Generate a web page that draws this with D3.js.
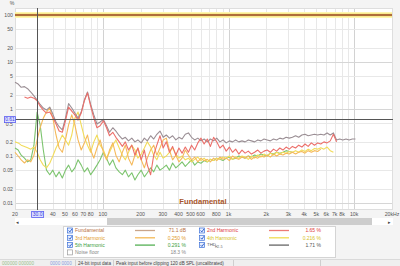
<!DOCTYPE html>
<html>
<head>
<meta charset="utf-8">
<script src="https://cdn.jsdelivr.net/npm/d3@7"></script>
<style>
  html, body { margin: 0; padding: 0; background: #f4f4f4; }
  svg { display: block; font-family: "Liberation Sans", Arial, sans-serif; }
</style>
</head>
<body>
<svg id="chart" width="400" height="266"></svg>
<script>
// frequency grid, 1/12 octave (Hz)
const freqs = [20, 21.2, 22.4, 23.8, 25.2, 26.7, 28.3, 30, 31.7, 33.6, 35.6, 37.8,
  40, 42.4, 44.9, 47.6, 50.4, 53.4, 56.6, 59.9, 63.5, 67.3, 71.3, 75.5,
  80, 84.8, 89.8, 95.1, 101, 107, 113, 120, 127, 135, 143, 151,
  160, 170, 180, 190, 202, 214, 226, 240, 254, 269, 285, 302,
  320, 339, 359, 381, 403, 427, 453, 480, 508, 538, 570, 604,
  640, 678, 718, 761, 806, 854, 905, 959, 1016, 1076, 1140, 1208,
  1280, 1356, 1437, 1522, 1613, 1709, 1810, 1918, 2032, 2153, 2281, 2416,
  2560, 2712, 2874, 3044, 3225, 3417, 3620, 3836, 4064, 4305, 4561, 4833,
  5120, 5424, 5747, 6089, 6451, 6834, 7241, 7671, 8127, 8611, 9123, 9665, 10240];

// distortion in %, null = not shown
const thd = [3.7, 3.4, 2.9, 3.0, 2.7, 2.3, 1.9, 1.55, 1.25, 1.05, 0.95, 1.1,
  0.78, 0.53, 0.42, 0.36, 0.64, 1.3, 1.05, 0.82, 0.64, 0.86, 1.55, 2.3,
  1.25, 0.75, 0.48, 0.53, 0.6, 0.44, 0.32, 0.4, 0.34, 0.27, 0.23, 0.25,
  0.21, 0.24, 0.2, 0.22, 0.19, 0.24, 0.21, 0.27, 0.23, 0.29, 0.34, 0.25,
  0.28, 0.24, 0.27, 0.22, 0.25, 0.23, 0.29, 0.31, 0.25, 0.22, 0.24, 0.21,
  0.23, 0.2, 0.23, 0.21, 0.24, 0.2, 0.22, 0.19, 0.21, 0.2, 0.22, 0.2,
  0.21, 0.2, 0.22, 0.21, 0.2, 0.22, 0.21, 0.23, 0.22, 0.21, 0.23, 0.22,
  0.24, 0.23, 0.25, 0.24, 0.25, 0.27, 0.25, 0.28, 0.29, 0.27, 0.28, 0.29,
  0.28, 0.29, 0.28, 0.31, 0.28, 0.31, 0.22, 0.23, 0.22, 0.23, 0.22, 0.23, 0.23];

const h2 = [null, null, null, 1.8, 1.7, 1.8, 1.7, 1.5, 1.15, 0.95, 0.82, 0.86,
  0.67, 0.48, 0.34, 0.32, 0.56, 1.1, 0.9, 0.75, 0.58, 0.82, 1.5, 2.2,
  1.15, 0.64, 0.4, 0.44, 0.56, 0.4, 0.27, 0.32, 0.25, 0.2, 0.16, 0.2,
  0.134, 0.17, 0.104, 0.148, 0.083, 0.134, 0.064, 0.04, 0.104, 0.17, 0.27, 0.148,
  0.2, 0.12, 0.16, 0.104, 0.148, 0.115, 0.155, 0.12, 0.17, 0.134, 0.19, 0.24,
  0.18, 0.23, 0.16, 0.25, 0.2, 0.148, 0.17, 0.127, 0.155, 0.12, 0.14, 0.11,
  0.134, 0.115, 0.127, 0.11, 0.12, 0.134, 0.115, 0.127, 0.134, 0.12, 0.14, 0.127,
  0.148, 0.134, 0.155, 0.14, 0.16, 0.148, 0.17, 0.155, 0.18, 0.16, 0.19, 0.17,
  0.19, 0.18, 0.2, 0.19, 0.21, 0.29, 0.2, null, null, null, null, null, null];

const h3 = [0.12, 0.1, 0.083, 0.071, 0.083, 0.075, 0.104, 0.22, 0.4, 0.64, 0.86, 1.05,
  0.64, 0.28, 0.148, 0.12, 0.22, 0.46, 0.75, 0.46, 0.22, 0.134, 0.19, 0.28,
  0.134, 0.09, 0.148, 0.22, 0.12, 0.083, 0.134, 0.19, 0.104, 0.075, 0.12, 0.17,
  0.09, 0.064, 0.104, 0.148, 0.083, 0.056, 0.09, 0.134, 0.17, 0.104, 0.148, 0.22,
  0.24, 0.134, 0.083, 0.104, 0.075, 0.09, 0.134, 0.104, 0.083, 0.095, 0.075, 0.09,
  0.079, 0.085, 0.075, 0.09, 0.08, 0.095, 0.085, 0.09, 0.08, 0.1, 0.09, 0.085,
  0.095, 0.09, 0.1, 0.085, 0.095, 0.09, 0.1, 0.095, 0.105, 0.095, 0.11, 0.1,
  0.11, 0.105, 0.115, 0.11, 0.12, 0.11, 0.12, 0.125, 0.115, 0.13, 0.12, 0.13,
  0.125, 0.14, null, null, null, null, null, null, null, null, null, null, null];

const h4 = [0.2, 0.19, 0.17, 0.16, 0.15, 0.14, 0.155, 0.12, 0.083, 0.064, 0.056, 0.07,
  0.1, 0.148, 0.2, 0.28, 0.22, 0.17, 0.28, 0.64, 0.86, 0.46, 0.25, 0.17,
  0.12, 0.2, 0.28, 0.17, 0.134, 0.09, 0.12, 0.17, 0.22, 0.148, 0.104, 0.083,
  0.12, 0.17, 0.134, 0.09, 0.11, 0.148, 0.2, 0.155, 0.104, 0.083, 0.12, 0.09,
  0.1, 0.12, 0.148, 0.11, 0.09, 0.1, 0.083, 0.09, 0.075, 0.085, 0.095, 0.08,
  0.09, 0.075, 0.085, 0.08, 0.09, 0.085, 0.095, 0.09, 0.1, 0.085, 0.095, 0.09,
  0.1, 0.095, 0.085, 0.1, 0.09, 0.105, 0.095, 0.11, 0.1, 0.115, 0.105, 0.12,
  0.11, 0.12, 0.115, 0.125, 0.12, 0.13, 0.12, 0.135, 0.125, 0.14, 0.13, 0.145,
  0.14, 0.15, 0.14, 0.155, 0.13, 0.12, null, null, null, null, null, null, null];

const h5 = [0.148, 0.134, 0.104, 0.09, 0.075, 0.083, 0.17, 0.86, 0.46, 0.134, 0.05, 0.04,
  0.05, 0.036, 0.046, 0.034, 0.05, 0.064, 0.046, 0.056, 0.083, 0.064, 0.046, 0.056,
  0.04, 0.05, 0.064, 0.083, 0.12, 0.09, 0.064, 0.083, 0.056, 0.046, 0.04, 0.05,
  0.036, 0.044, 0.031, 0.04, 0.05, 0.036, 0.044, 0.056, 0.046, 0.064, 0.05, 0.056,
  0.064, 0.05, 0.071, 0.056, 0.064, 0.075, 0.06, 0.071, 0.083, 0.064, 0.075, 0.07,
  0.08, 0.075, 0.085, 0.08, 0.09, 0.085, 0.08, 0.09, 0.095, 0.085, 0.09, 0.1,
  0.095, 0.09, 0.1, 0.095, 0.105, 0.1, 0.11, 0.105, 0.1, 0.115, 0.11, 0.12,
  0.115, 0.12, 0.13, 0.125, 0.12, null, null, null, null, null, null, null,
  null, null, null, null, null, null, null, null, null, null, null, null, null];

// axis ticks
const yTicks = [100, 50, 20, 10, 5, 2, 1, 0.5, 0.2, 0.1, 0.05, 0.02, 0.01];
const xTickValues = [20, 40, 50, 60, 70, 80, 100, 200, 300, 400, 500, 600, 800,
  1000, 2000, 3000, 4000, 5000, 6000, 7000, 8000, 10000, 20000];
const xTickLabels = ["20", "40", "50", "60", "70", "80", "100", "200", "300", "400", "500", "600", "800",
  "1k", "2k", "3k", "4k", "5k", "6k", "7k", "8k", "10k", "20kHz"];

// legend
const legendNames = ["Fundamental", "2nd Harmonic", "3rd Harmonic", "4th Harmonic", "5th Harmonic", "THD", "Noise floor"];
const legendValues = ["71.1 dB", "1.65 %", "0.250 %", "0.216 %", "0.291 %", "1.71 %", "18.3 %"];
const legendChecked = [true, true, true, true, true, true, false];

const cursorFreq = 30;
const cursorLevel = 0.61;
const fundamentalLevel = 100;

const svg = d3.select("#chart");

const plot = { left: 15, right: 393, top: 8, bottom: 210 };

const x = d3.scaleLog().domain([20, 20000]).range([15, 392]);
const y = d3.scaleLog().domain([0.0071, 141]).range([plot.bottom, plot.top]);

// plot background
svg.append("rect")
  .attr("x", plot.left).attr("y", plot.top)
  .attr("width", plot.right - plot.left).attr("height", plot.bottom - plot.top)
  .attr("fill", "#fff");

/*
 * grid
 */
const gridX = [];
[10, 100, 1000, 10000].forEach(dec => {
  for (let m = 1; m < 10; m++) {
    const f = dec * m;
    if (f >= 20 && f <= 20000) gridX.push(f);
  }
});
gridX.push(20000);

svg.append("g").selectAll("line")
  .data(gridX)
  .join("line")
  .attr("x1", d => Math.round(x(d)) + 0.5).attr("x2", d => Math.round(x(d)) + 0.5)
  .attr("y1", plot.top).attr("y2", plot.bottom)
  .attr("stroke", d => [100, 1000, 10000].includes(d) ? "#d2d2d2" : "#e8e8e8")
  .attr("stroke-width", 1);

svg.append("g").selectAll("line")
  .data(yTicks)
  .join("line")
  .attr("x1", plot.left).attr("x2", plot.right)
  .attr("y1", d => Math.round(y(d)) + 0.5).attr("y2", d => Math.round(y(d)) + 0.5)
  .attr("stroke", d => [100, 10, 1, 0.1, 0.01].includes(d) ? "#d6d6d6" : "#e8e8e8")
  .attr("stroke-width", 1);

// plot frame
svg.append("rect")
  .attr("x", plot.left + 0.5).attr("y", plot.top + 0.5)
  .attr("width", plot.right - plot.left - 1).attr("height", plot.bottom - plot.top - 1)
  .attr("fill", "none").attr("stroke", "#dedede");

/*
 * fundamental line with highlight
 */
svg.append("line")
  .attr("x1", plot.left).attr("x2", plot.right - 1)
  .attr("y1", y(fundamentalLevel)).attr("y2", y(fundamentalLevel))
  .attr("stroke", "#fff7b0").attr("stroke-width", 6);
svg.append("line")
  .attr("x1", plot.left).attr("x2", plot.right - 1)
  .attr("y1", y(fundamentalLevel)).attr("y2", y(fundamentalLevel))
  .attr("stroke", "#f1dc6c").attr("stroke-width", 3);
svg.append("line")
  .attr("x1", plot.left).attr("x2", plot.right - 1)
  .attr("y1", y(fundamentalLevel)).attr("y2", y(fundamentalLevel))
  .attr("stroke", "#9a4a2a").attr("stroke-width", 1.4);

/*
 * distortion traces
 */
const line = d3.line()
  .defined(d => d[1] != null)
  .x(d => x(d[0]))
  .y(d => y(d[1]));

const traces = [
  { values: h5, color: "#7cc46e" },
  { values: h4, color: "#f2dc5a" },
  { values: h3, color: "#f5b95a" },
  { values: thd, color: "#9a8e94" },
  { values: h2, color: "#ec6f6a" }
];

const traceG = svg.append("g");
traces.forEach(t => {
  traceG.append("path")
    .attr("d", line(freqs.map((f, i) => [f, t.values[i]])))
    .attr("fill", "none")
    .attr("stroke", t.color)
    .attr("stroke-width", 1.1)
    .attr("stroke-linejoin", "round");
});

// label inside plot
svg.append("text")
  .attr("x", 203).attr("y", 204)
  .attr("text-anchor", "middle")
  .attr("font-size", 7.6).attr("font-weight", "bold")
  .attr("fill", "#a8552a")
  .text("Fundamental");

/*
 * cursor
 */
svg.append("line")
  .attr("x1", Math.round(x(cursorFreq)) + 0.5).attr("x2", Math.round(x(cursorFreq)) + 0.5)
  .attr("y1", plot.top).attr("y2", plot.bottom)
  .attr("stroke", "#555").attr("stroke-width", 1);
svg.append("line")
  .attr("x1", plot.left).attr("x2", plot.right)
  .attr("y1", Math.round(y(cursorLevel)) + 0.5).attr("y2", Math.round(y(cursorLevel)) + 0.5)
  .attr("stroke", "#555").attr("stroke-width", 1);

/*
 * axes labels
 */
const yAxis = svg.append("g").attr("font-size", 5.2).attr("fill", "#555");
yAxis.selectAll("text")
  .data(yTicks.filter(d => d !== 0.5))
  .join("text")
  .attr("x", 13).attr("y", d => y(d) + 1.8)
  .attr("text-anchor", "end")
  .text(d => d);
yAxis.append("text").attr("x", 13).attr("y", y(0.5) + 2.8).attr("text-anchor", "end").text("0.5");
yAxis.append("text").attr("x", 12).attr("y", 5).attr("text-anchor", "middle").text("%");

const xAxis = svg.append("g").attr("font-size", 5.2).attr("fill", "#555");
xAxis.selectAll("text")
  .data(xTickValues)
  .join("text")
  .attr("x", d => x(d)).attr("y", 216)
  .attr("text-anchor", "middle")
  .text((d, i) => xTickLabels[i]);

// cursor value boxes
function cursorBox(cx, cy, w, label) {
  svg.append("rect")
    .attr("x", cx - w / 2 + 0.5).attr("y", cy - 3 + 0.5)
    .attr("width", w).attr("height", 6)
    .attr("fill", "#dfe3ff").attr("stroke", "#5a5cf0").attr("stroke-width", 0.8);
  svg.append("text")
    .attr("x", cx + 0.5).attr("y", cy + 2.3)
    .attr("text-anchor", "middle").attr("font-size", 5)
    .attr("fill", "#3a3ce0")
    .text(label);
}
cursorBox(x(cursorFreq), 214, 12, "30.0");
cursorBox(9.5, y(cursorLevel), 11, "0.61");

/*
 * scrollbar
 */
svg.append("rect").attr("x", 15).attr("y", 218).attr("width", 378).attr("height", 7).attr("fill", "#fff");
svg.append("rect").attr("x", 107).attr("y", 218).attr("width", 265).attr("height", 7).attr("fill", "#cdcdcd");
svg.append("text").attr("x", 17).attr("y", 223.5).attr("font-size", 5).attr("fill", "#444")
  .attr("text-anchor", "middle").text("◂");
svg.append("text").attr("x", 389).attr("y", 223.5).attr("font-size", 5).attr("fill", "#444")
  .attr("text-anchor", "middle").text("▸");

/*
 * legend panel
 */
svg.append("rect").attr("x", 63.5).attr("y", 226.5).attr("width", 272).attr("height", 31)
  .attr("fill", "#fff").attr("stroke", "#d4d4d4");

const legendColors = ["#b8703e", "#e03c3c", "#e39a2a", "#d6c21e", "#3d9e3d", "#555", "#888"];
const sampleColors = ["#c9a58a", "#ec7a76", "#f4b955", "#f0dc52", "#55b055", "#666", null];
const legendPos = [
  [0, 0], [1, 0], [0, 1], [1, 1], [0, 2], [1, 2], [0, 3]
];
const legend = svg.append("g").attr("font-size", 5);
legendNames.forEach((name, i) => {
  const col = legendPos[i][0], row = legendPos[i][1];
  const cy = 230.5 + row * 7.3;
  const bx = col === 0 ? 67 : 199;
  const g = legend.append("g");
  g.append("rect").attr("x", bx + 0.5).attr("y", cy - 2.5).attr("width", 5).attr("height", 5)
    .attr("fill", legendChecked[i] ? "#e8efff" : "#fff")
    .attr("stroke", legendChecked[i] ? "#3b6fd8" : "#9a9a9a").attr("stroke-width", 0.7);
  if (legendChecked[i]) {
    g.append("path")
      .attr("d", `M${bx + 1.6},${cy} L${bx + 2.9},${cy + 1.4} L${bx + 5},${cy - 1.6}`)
      .attr("fill", "none").attr("stroke", "#2458c8").attr("stroke-width", 0.9);
  }
  if (name === "THD") {
    g.append("text").attr("x", bx + 8).attr("y", cy + 0.4).attr("font-size", 4.4)
      .attr("fill", legendColors[i]).text("THD");
    g.append("text").attr("x", bx + 16).attr("y", cy + 2.6).attr("font-size", 3.2)
      .attr("fill", legendColors[i]).text("H2..5");
  } else {
    g.append("text").attr("x", bx + 8).attr("y", cy + 1.8).attr("fill", legendColors[i]).text(name);
  }
  if (sampleColors[i]) {
    const sx = col === 0 ? 135 : 269;
    g.append("line").attr("x1", sx).attr("x2", sx + 20).attr("y1", cy).attr("y2", cy)
      .attr("stroke", sampleColors[i]).attr("stroke-width", 1.3);
  }
  g.append("text").attr("x", col === 0 ? 186 : 321).attr("y", cy + 1.8)
    .attr("text-anchor", "end").attr("fill", legendColors[i]).text(legendValues[i]);
});

/*
 * status bar
 */
svg.append("rect").attr("x", 0).attr("y", 259).attr("width", 400).attr("height", 7).attr("fill", "#efefef");
svg.append("line").attr("x1", 0).attr("x2", 400).attr("y1", 259.5).attr("y2", 259.5).attr("stroke", "#dadada");
const status = svg.append("g").attr("font-size", 4.6).attr("fill", "#444");
status.append("text").attr("x", 2).attr("y", 264.5).attr("fill", "#9bc08a").text("000000 000000");
status.append("text").attr("x", 50).attr("y", 264.5).attr("fill", "#8a9ae0").text("0000 0000");
status.append("text").attr("x", 78).attr("y", 264.5).text("24-bit input data");
status.append("text").attr("x", 116).attr("y", 264.5).text("Peak input before clipping 120 dB SPL (uncalibrated)");
[75.5, 113.5, 233.5, 320.5].forEach(sx => {
  svg.append("line").attr("x1", sx).attr("x2", sx).attr("y1", 260).attr("y2", 266).attr("stroke", "#cfcfcf");
});
</script>
</body>
</html>
